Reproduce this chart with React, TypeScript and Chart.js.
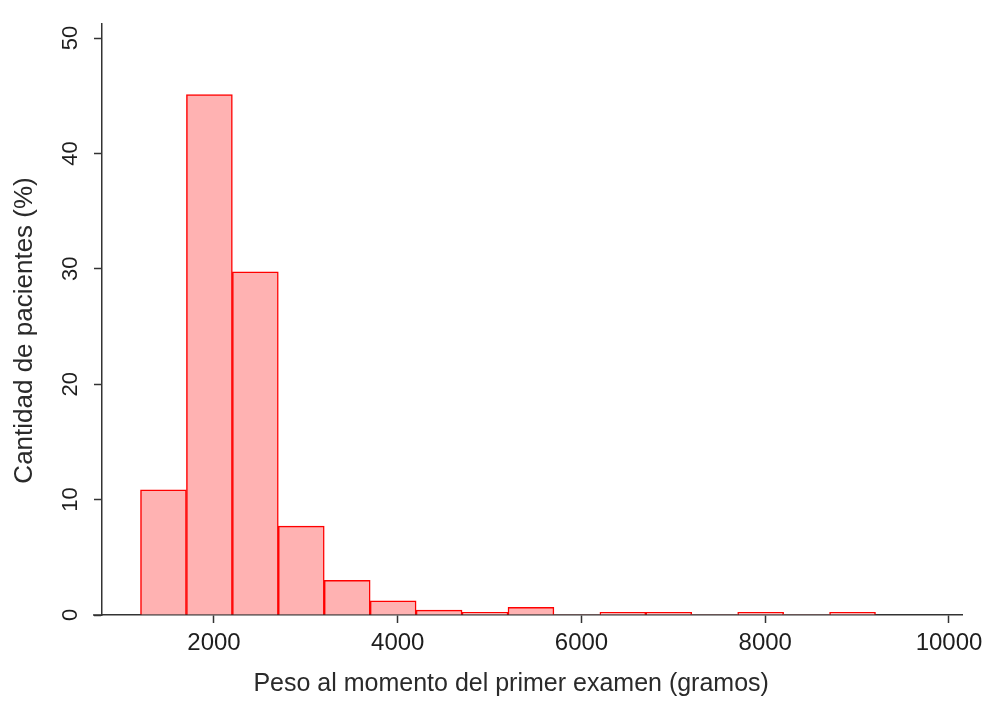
import React, { useEffect, useRef } from "react";
import { Chart, registerables } from "chart.js";

Chart.register(...registerables);

// Histogram bins (grams): centres of 500 g wide bins, starting at 1200 g
const binCenters = [1450, 1950, 2450, 2950, 3450, 3950, 4450, 4950, 5450, 5950, 6450, 6950, 7450, 7950, 8450, 8950];
// Percentage of patients in each bin
const percentages = [10.85, 45.1, 29.75, 7.7, 3.0, 1.23, 0.42, 0.23, 0.66, 0, 0.23, 0.23, 0, 0.23, 0, 0.23];

const xTickValues = [2000, 4000, 6000, 8000, 10000];
const yTickValues = [0, 10, 20, 30, 40, 50];

const xTitle = "Peso al momento del primer examen (gramos)";
const yTitle = "Cantidad de pacientes (%)";

const FONT = "'Liberation Sans', Arial, Helvetica, sans-serif";
const AXIS = "#333333";

const axisExtension = {
  id: "axisExtension",
  afterDraw(chart: any) {
    const { ctx, chartArea } = chart;
    ctx.save();
    ctx.strokeStyle = AXIS;
    ctx.lineWidth = 1.5;
    ctx.beginPath();
    ctx.moveTo(chartArea.left - 9, chartArea.bottom);
    ctx.lineTo(chartArea.left, chartArea.bottom);
    ctx.stroke();
    ctx.restore();
  },
};

export default function App() {
  const canvasRef = useRef<HTMLCanvasElement | null>(null);

  useEffect(() => {
    const canvas = canvasRef.current;
    if (!canvas) return;
    const chart = new Chart(canvas, {
      type: "bar",
      data: {
        datasets: [
          {
            data: binCenters.map((x, i) => ({ x, y: percentages[i] })),
            backgroundColor: "rgba(255, 178, 178, 1)",
            borderColor: "#ff0000",
            borderWidth: (c: any) => (c.raw && c.raw.y === 0 ? 0 : 1.5),
            borderSkipped: "start",
            barPercentage: 1,
            categoryPercentage: 1,
          } as any,
        ],
      },
      options: {
        animation: false,
        responsive: false,
        maintainAspectRatio: false,
        layout: { padding: { top: 21, right: 29, bottom: 0, left: 0 } },
        plugins: {
          legend: { display: false },
          tooltip: { enabled: false },
        },
        scales: {
          x: {
            type: "linear",
            min: 781,
            max: 10141.5,
            offset: false,
            afterBuildTicks: (scale: any) => {
              scale.ticks = xTickValues.map((v) => ({ value: v }));
            },
            afterFit: (scale: any) => {
              scale.height = 94;
            },
            ticks: {
              stepSize: 2000,
              padding: 6,
              color: "#1e1e1e",
              font: { family: FONT, size: 24 },
              maxRotation: 0,
              minRotation: 0,
              callback: (v: any) => String(v),
            },
            grid: {
              display: true,
              offset: false,
              drawOnChartArea: false,
              drawTicks: true,
              tickLength: 8,
              tickColor: AXIS,
              tickWidth: 1.5,
            },
            border: { display: true, color: AXIS, width: 1.5 },
            title: {
              display: true,
              text: xTitle + "      ",
              color: "#2a2a2a",
              font: { family: FONT, size: 25 },
              padding: { top: 0, bottom: 10 },
            },
          },
          y: {
            type: "linear",
            min: 0,
            max: 51.2,
            afterBuildTicks: (scale: any) => {
              scale.ticks = yTickValues.map((v) => ({ value: v }));
            },
            afterFit: (scale: any) => {
              scale.width = 102;
            },
            ticks: {
              stepSize: 10,
              padding: 11,
              color: "#1e1e1e",
              font: { family: FONT, size: 22 },
              minRotation: 90,
              maxRotation: 90,
              crossAlign: "center",
            },
            grid: {
              display: true,
              drawOnChartArea: false,
              drawTicks: true,
              tickLength: 8,
              tickColor: AXIS,
              tickWidth: 1.5,
            },
            border: { display: true, color: AXIS, width: 1.5 },
            title: {
              display: true,
              text: yTitle + "   ",
              color: "#2a2a2a",
              font: { family: FONT, size: 26 },
              padding: { top: 9, bottom: 0 },
            },
          },
        },
      } as any,
      plugins: [axisExtension],
    });
    return () => chart.destroy();
  }, []);

  return (
    <div style={{ position: "fixed", left: 0, top: 0, width: 991, height: 709, background: "#ffffff" }}>
      <canvas ref={canvasRef} width={991} height={709} style={{ width: 991, height: 709, display: "block" }} />
    </div>
  );
}
